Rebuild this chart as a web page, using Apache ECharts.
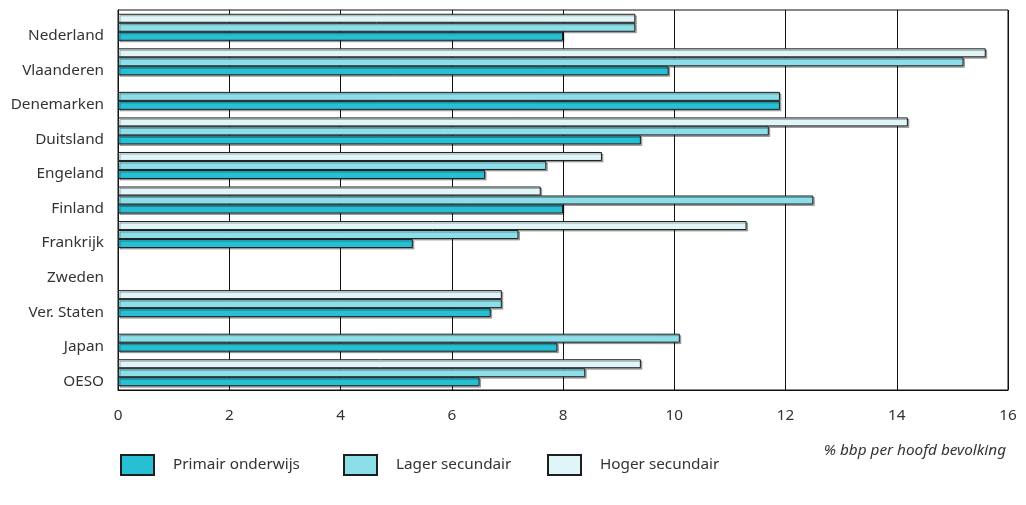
<!DOCTYPE html>
<html>
<head>
<meta charset="utf-8">
<script src="https://cdn.jsdelivr.net/npm/echarts@6/dist/echarts.min.js"></script>
<style>
html,body{margin:0;padding:0;background:#fff;}
#chart{width:1026px;height:505px;}
</style>
</head>
<body>
<div id="chart"></div>
<script>
const categories = ['Nederland','Vlaanderen','Denemarken','Duitsland','Engeland','Finland','Frankrijk','Zweden','Ver. Staten','Japan','OESO'];
const primair = [8.0, 9.9, 11.9, 9.4, 6.6, 8.0, 5.3, null, 6.7, 7.9, 6.5];
const lager   = [9.3, 15.2, 11.9, 11.7, 7.7, 12.5, 7.2, null, 6.9, 10.1, 8.4];
const hoger   = [9.3, 15.6, null, 14.2, 8.7, 7.6, 11.3, null, 6.9, null, 9.4];
const xTicks = [0, 2, 4, 6, 8, 10, 12, 14, 16];
const seriesNames = ['Primair onderwijs', 'Lager secundair', 'Hoger secundair'];
const colors = ['#26BFD3', '#8CDFE9', '#E0F5F8'];

const font = 'Noto Sans';
const fs = 15.3;
const chart = echarts.init(document.getElementById('chart'));

function barSeries(name, data, color) {
  return {
    name: name,
    type: 'bar',
    data: data,
    barWidth: 9,
    barGap: '0%',
    itemStyle: {
      color: color,
      borderColor: '#1e1e1e',
      borderWidth: 1,
      shadowColor: 'rgba(0,0,0,0.3)',
      shadowOffsetX: 1.5,
      shadowOffsetY: 1.5,
      shadowBlur: 0
    },
    emphasis: { disabled: true },
    animation: false
  };
}

function legendFor(name, left) {
  return {
    data: [name],
    left: left,
    top: 454,
    padding: 0,
    orient: 'horizontal',
    itemWidth: 33,
    itemHeight: 20,
    icon: 'rect',
    selectedMode: false,
    textStyle: { fontFamily: font, fontSize: fs, color: '#333', padding: [0, 0, 0, 14] }
  };
}

chart.setOption({
  animation: false,
  grid: {
    left: 118, right: 18, top: 10, bottom: 115,
    show: true, borderColor: '#111', borderWidth: 1
  },
  title: {
    text: '% bbp per hoofd bevolking',
    right: 15,
    top: 438,
    textStyle: { fontFamily: font, fontSize: fs, fontStyle: 'italic', fontWeight: 'normal', color: '#333' }
  },
  legend: [
    legendFor(seriesNames[0], 120),
    legendFor(seriesNames[1], 343),
    legendFor(seriesNames[2], 547)
  ],
  xAxis: {
    type: 'value',
    min: xTicks[0],
    max: xTicks[xTicks.length - 1],
    interval: 2,
    axisLine: { show: true, lineStyle: { color: '#111', width: 1 } },
    axisTick: { show: false },
    axisLabel: { fontFamily: font, fontSize: fs, color: '#333', margin: 18 },
    splitLine: { show: true, lineStyle: { color: '#111', width: 1 } }
  },
  yAxis: {
    type: 'category',
    data: categories,
    inverse: true,
    axisLine: { show: true, lineStyle: { color: '#111', width: 1 } },
    axisTick: { show: false },
    axisLabel: { fontFamily: font, fontSize: fs, color: '#333', margin: 14, verticalAlign: 'top', lineHeight: 17 },
    splitLine: { show: false }
  },
  series: [
    barSeries(seriesNames[2], hoger, colors[2]),
    barSeries(seriesNames[1], lager, colors[1]),
    barSeries(seriesNames[0], primair, colors[0])
  ]
});
</script>
</body>
</html>
